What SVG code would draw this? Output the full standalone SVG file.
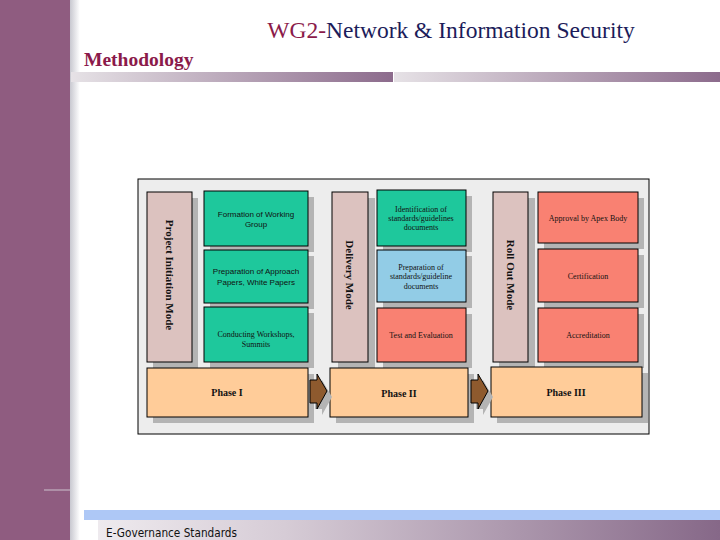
<svg xmlns="http://www.w3.org/2000/svg" width="720" height="540" viewBox="0 0 720 540">
<defs>
<linearGradient id="gbar" x1="0" x2="1" y1="0" y2="0"><stop offset="0" stop-color="#e6e2e6"/><stop offset="1" stop-color="#8c6b8c"/></linearGradient>
<linearGradient id="gfoot" x1="0" x2="1" y1="0" y2="0"><stop offset="0" stop-color="#eeeaee"/><stop offset="0.3" stop-color="#d6ccd6"/><stop offset="1" stop-color="#866888"/></linearGradient>
<linearGradient id="gshade" x1="0" x2="1" y1="0" y2="0"><stop offset="0" stop-color="#c8c8d0"/><stop offset="1" stop-color="#ffffff"/></linearGradient>
<style>
.box{stroke:#000;stroke-width:1}
.sh{fill:#b4b4b4}
.green{fill:#1ec89c}
.blue{fill:#92cce6}
.red{fill:#f98172}
.pillar{fill:#dcc2bf}
.phase{fill:#ffcc99}
.t{font-family:"Liberation Serif",serif;font-size:8px;fill:#111;text-anchor:middle}
.ts{font-family:"Liberation Sans",sans-serif;font-size:8px;fill:#111;text-anchor:middle}
.pt{font-family:"Liberation Serif",serif;font-size:11px;font-weight:bold;fill:#111;text-anchor:middle}
.ph{font-family:"Liberation Serif",serif;font-size:10px;font-weight:bold;fill:#111;text-anchor:middle}
</style>
</defs>
<rect width="720" height="540" fill="#fff"/>
<rect x="0" y="0" width="70" height="540" fill="#8f5c80"/>
<rect x="70" y="0" width="10" height="540" fill="url(#gshade)"/>
<line x1="44" y1="490" x2="70" y2="490" stroke="#b9a0b4" stroke-width="1.5"/>
<text x="451" y="38" font-family="Liberation Serif,serif" font-size="23.5" text-anchor="middle" fill="#1c1c5a"><tspan fill="#8b1a4a">WG2-</tspan>Network &amp; Information Security</text>
<text x="84" y="66" font-family="Liberation Serif,serif" font-size="19.5" font-weight="bold" fill="#8b1a4a">Methodology</text>
<rect x="71" y="72" width="322" height="10" fill="url(#gbar)"/>
<rect x="394" y="72" width="326" height="10" fill="url(#gbar)"/>

<rect x="138" y="179" width="511" height="255" fill="#ededed" stroke="#000" stroke-width="1"/>

<g id="pillar1"><rect class="sh" x="153" y="198" width="45" height="170"/><rect class="box pillar" x="147" y="192" width="45" height="170"/><text class="pt" transform="translate(166,275) rotate(90)">Project Initiation Mode</text></g>
<g id="pillar2"><rect class="sh" x="338" y="198" width="37" height="170"/><rect class="box pillar" x="332" y="192" width="36" height="170"/><text class="pt" transform="translate(346,275) rotate(90)">Delivery Mode</text></g>
<g id="pillar3"><rect class="sh" x="499" y="198" width="36" height="170"/><rect class="box pillar" x="493" y="192" width="35" height="170"/><text class="pt" transform="translate(507,275) rotate(90)">Roll Out Mode</text></g>

<g id="b11"><rect class="sh" x="210" y="197" width="104" height="55"/><rect class="box green" x="204" y="191" width="104" height="55"/><text class="ts" x="256" y="217">Formation of Working</text><text class="ts" x="256" y="227">Group</text></g>
<g id="b12"><rect class="sh" x="210" y="256" width="104" height="53"/><rect class="box green" x="204" y="250" width="104" height="53"/><text class="ts" x="256" y="274">Preparation of Approach</text><text class="ts" x="256" y="285">Papers, White Papers</text></g>
<g id="b13"><rect class="sh" x="210" y="313" width="104" height="55"/><rect class="box green" x="204" y="307" width="104" height="55"/><text class="t" x="256" y="337">Conducting Workshops,</text><text class="t" x="256" y="347">Summits</text></g>

<g id="b21"><rect class="sh" x="383" y="196" width="89" height="56"/><rect class="box green" x="377" y="190" width="89" height="56"/><text class="t" x="421" y="212">Identification of</text><text class="t" x="421" y="221">standards/guidelines</text><text class="t" x="421" y="230">documents</text></g>
<g id="b22"><rect class="sh" x="383" y="256" width="89" height="52"/><rect class="box blue" x="377" y="250" width="89" height="52"/><text class="t" x="421" y="270">Preparation of</text><text class="t" x="421" y="279">standards/guideline</text><text class="t" x="421" y="289">documents</text></g>
<g id="b23"><rect class="sh" x="383" y="314" width="89" height="54"/><rect class="box red" x="377" y="308" width="89" height="54"/><text class="t" x="421" y="338">Test and Evaluation</text></g>

<g id="b31"><rect class="sh" x="544" y="198" width="100" height="51"/><rect class="box red" x="538" y="192" width="100" height="51"/><text class="t" x="588" y="221">Approval by Apex Body</text></g>
<g id="b32"><rect class="sh" x="544" y="255" width="100" height="53"/><rect class="box red" x="538" y="249" width="100" height="53"/><text class="t" x="588" y="279">Certification</text></g>
<g id="b33"><rect class="sh" x="544" y="314" width="100" height="54"/><rect class="box red" x="538" y="308" width="100" height="54"/><text class="t" x="588" y="338">Accreditation</text></g>

<g id="phase1"><rect class="sh" x="153" y="374" width="161" height="49"/><rect class="box phase" x="147" y="368" width="161" height="49"/><text class="ph" x="227" y="396">Phase I</text></g>
<g id="phase2"><rect class="sh" x="336" y="374" width="138" height="49"/><rect class="box phase" x="330" y="368" width="138" height="49"/><text class="ph" x="399" y="397">Phase II</text></g>
<g id="phase3"><rect class="sh" x="497" y="373" width="151" height="50"/><rect class="box phase" x="491" y="367" width="151" height="50"/><text class="ph" x="566" y="396">Phase III</text></g>

<g id="connectors">
<polygon class="sh" points="315,386 322,386 322,380 332,397 322,415 322,409 315,409"/>
<polygon points="310,380 317,380 317,374 327,391 317,409 317,403 310,403" fill="#8e5a2e" stroke="#000" stroke-width="1"/>
<polygon class="sh" points="476,386 483,386 483,380 493,397 483,415 483,409 476,409"/>
<polygon points="471,380 478,380 478,374 488,391 478,409 478,403 471,403" fill="#8e5a2e" stroke="#000" stroke-width="1"/>
</g>

<rect x="84" y="510" width="636" height="10" fill="#aec8f6"/>
<rect x="98" y="520" width="622" height="20" fill="url(#gfoot)"/>
<text x="106" y="537" font-family="DejaVu Sans,sans-serif" font-size="12" fill="#111" textLength="131" lengthAdjust="spacingAndGlyphs">E-Governance Standards</text>
</svg>
